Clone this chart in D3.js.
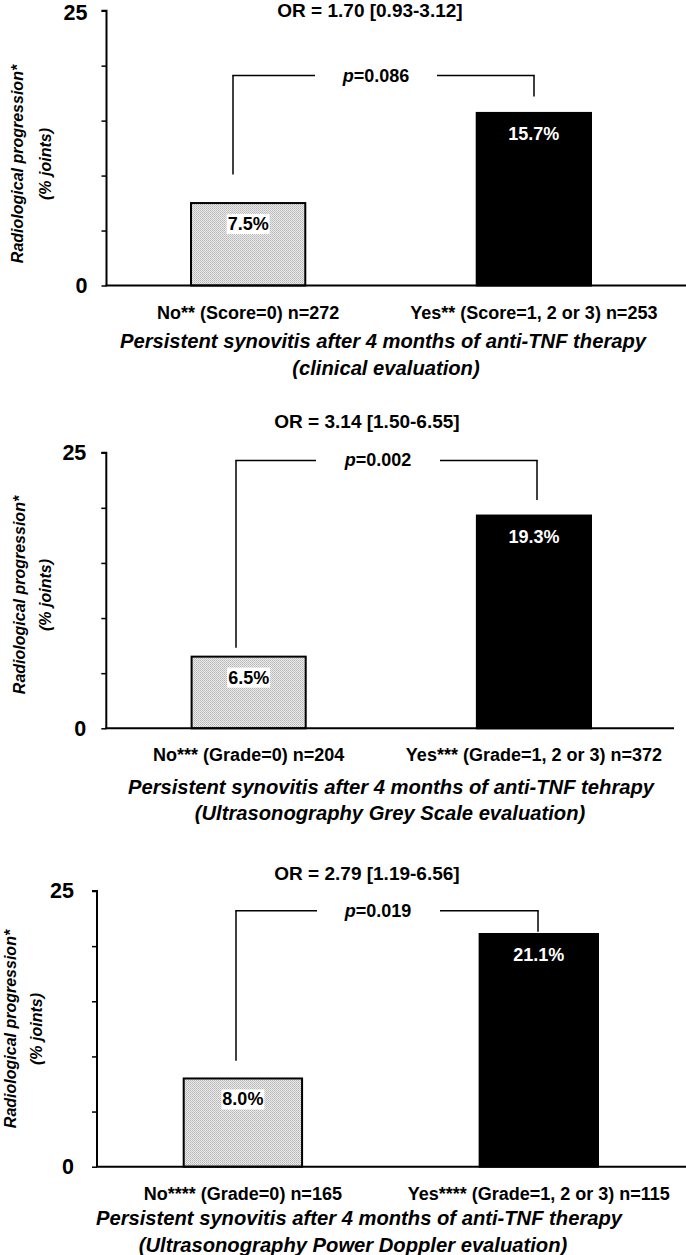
<!DOCTYPE html>
<html>
<head>
<meta charset="utf-8">
<script src="https://cdn.jsdelivr.net/npm/d3@7"></script>
<style>
  html, body { margin: 0; padding: 0; background: #fff; }
  svg { display: block; }
  text { font-family: "Liberation Sans", Arial, sans-serif; font-weight: bold; fill: #000; }
</style>
</head>
<body>
<svg id="chart" width="686" height="1255"></svg>
<script>
// ---------------- DATA ----------------
const groups = ["No", "Yes"];
const panelTitles = ["OR = 1.70 [0.93-3.12]", "OR = 3.14 [1.50-6.55]", "OR = 2.79 [1.19-6.56]"];
const values1 = [7.5, 15.7];
const values2 = [6.5, 19.3];
const values3 = [8.0, 21.1];
const valueLabels1 = ["7.5%", "15.7%"];
const valueLabels2 = ["6.5%", "19.3%"];
const valueLabels3 = ["8.0%", "21.1%"];
const categoryLabels1 = ["No** (Score=0) n=272", "Yes** (Score=1, 2 or 3) n=253"];
const categoryLabels2 = ["No*** (Grade=0) n=204", "Yes*** (Grade=1, 2 or 3) n=372"];
const categoryLabels3 = ["No**** (Grade=0) n=165", "Yes**** (Grade=1, 2 or 3) n=115"];
const pValues = ["0.086", "0.002", "0.019"];
// bracket levels in axis units: [top, left drop end, right drop end]
const brackets1 = [19.1, 10.1, 17.2];
const brackets2 = [24.3, 7.3, 20.7];
const brackets3 = [23.2, 9.6, 21.3];
const xTitles1 = ["Persistent synovitis after 4 months of anti-TNF therapy", "(clinical evaluation)"];
const xTitles2 = ["Persistent synovitis after 4 months of anti-TNF tehrapy", "(Ultrasonography Grey Scale evaluation)"];
const xTitles3 = ["Persistent synovitis after 4 months of anti-TNF therapy", "(Ultrasonography Power Doppler evaluation)"];
const yTitle = ["Radiological progression*", "(% joints)"];
const yTickValues = [0, 5, 10, 15, 20, 25];
const yLabelledTicks = [0, 25];
const yMax = 25;

// ---------------- LAYOUT ----------------
const panels = [
  { values: values1, vlabels: valueLabels1, cats: categoryLabels1, title: panelTitles[0], p: pValues[0], br: brackets1, xt: xTitles1,
    axisX: 106.5, yTop: 10.7, yBot: 285.5, xEnd: 686, band: [191, 591], titleX: 370, titleY: 10.5, topNudge: 2,
    brL: 233, brR: 534, gapL: 315, gapR: 437, pX: 376, xtX: [383, 386], xtY: [341, 368], ytX: [17, 45], ytY: 164, tickPad: 14 },
  { values: values2, vlabels: valueLabels2, cats: categoryLabels2, title: panelTitles[1], p: pValues[1], br: brackets2, xt: xTitles2,
    axisX: 106.3, yTop: 452.7, yBot: 728.3, xEnd: 674, band: [191.6, 591], titleX: 367, titleY: 421, topNudge: 0,
    brL: 236, brR: 537, gapL: 316, gapR: 440, pX: 378, xtX: [391, 390], xtY: [787, 813], ytX: [19, 45], ytY: 595, tickPad: 15 },
  { values: values3, vlabels: valueLabels3, cats: categoryLabels3, title: panelTitles[2], p: pValues[2], br: brackets3, xt: xTitles3,
    axisX: 97, yTop: 891, yBot: 1166.7, xEnd: 686, band: [183.7, 598], titleX: 367, titleY: 873, topNudge: 0,
    brL: 236, brR: 538, gapL: 317, gapR: 440, pX: 378, xtX: [359, 353], xtY: [1218, 1245], ytX: [10, 36], ytY: 1029, tickPad: 18 }
];

const svg = d3.select("#chart");

// stipple pattern for light bar
const defs = svg.append("defs");
const pat = defs.append("pattern").attr("id", "stipple").attr("patternUnits", "userSpaceOnUse")
  .attr("width", 2).attr("height", 2);
pat.append("rect").attr("width", 2).attr("height", 2).attr("fill", "#ececec");
pat.append("rect").attr("x", 0).attr("y", 0).attr("width", 1).attr("height", 1).attr("fill", "#b4b4b4");
pat.append("rect").attr("x", 1).attr("y", 1).attr("width", 1).attr("height", 1).attr("fill", "#c4c4c4");

const fills = ["url(#stipple)", "#000"];

panels.forEach(P => {
  const g = svg.append("g");
  const y = d3.scaleLinear().domain([0, yMax]).range([P.yBot, P.yTop]);
  const x = d3.scaleBand().domain(groups).range(P.band).paddingInner(0.6).paddingOuter(0);

  // title
  g.append("text").attr("x", P.titleX).attr("y", P.titleY).attr("text-anchor", "middle")
    .attr("dominant-baseline", "central").style("font-size", "19px").text(P.title);

  // bars
  g.selectAll("rect.bar").data(P.values).join("rect").attr("class", "bar")
    .attr("x", (d, i) => x(groups[i])).attr("width", x.bandwidth())
    .attr("y", d => y(d)).attr("height", d => y(0) - y(d))
    .attr("fill", (d, i) => fills[i]).attr("stroke", "#000").attr("stroke-width", 2);

  // value labels
  P.values.forEach((v, i) => {
    const cx = x(groups[i]) + x.bandwidth() / 2;
    const cy = y(v) + 21;
    const t = g.append("text").attr("x", cx).attr("y", cy).attr("text-anchor", "middle")
      .attr("dominant-baseline", "central").style("font-size", "18px")
      .style("fill", i === 0 ? "#000" : "#fff").text(P.vlabels[i]);
    if (i === 0) {
      const bb = t.node().getBBox();
      g.insert("rect", () => t.node()).attr("x", bb.x - 1).attr("y", cy - 10)
        .attr("width", bb.width + 2).attr("height", 20).attr("fill", "#fff");
    }
  });

  // axes
  const yAxis = d3.axisLeft(y).tickValues(yTickValues).tickSize(5).tickPadding(P.tickPad)
    .tickFormat(d => yLabelledTicks.includes(d) ? d : "");
  const ya = g.append("g").attr("transform", `translate(${P.axisX},0)`).call(yAxis);
  ya.select(".domain").attr("stroke-width", 2).attr("d", `M-5,${P.yTop}H0V${P.yBot}`);
  ya.selectAll(".tick line").attr("stroke-width", 1.5);
  ya.selectAll(".tick text").style("font-size", "21.5px").style("font-family", "'Liberation Sans', Arial, sans-serif")
    .style("font-weight", "bold").attr("fill", "#000")
    .attr("y", d => d === yMax ? P.topNudge : 0);

  g.append("line").attr("x1", P.axisX - 1).attr("x2", P.xEnd).attr("y1", y(0)).attr("y2", y(0))
    .attr("stroke", "#000").attr("stroke-width", 2);

  // category labels
  P.cats.forEach((c, i) => {
    g.append("text").attr("x", x(groups[i]) + x.bandwidth() / 2).attr("y", y(0) + 27)
      .attr("text-anchor", "middle").attr("dominant-baseline", "central")
      .style("font-size", "18px").text(c);
  });

  // significance bracket
  const [bTop, bL, bR] = P.br;
  const ln = (x1, y1, x2, y2) => g.append("line").attr("x1", x1).attr("y1", y1).attr("x2", x2).attr("y2", y2)
    .attr("stroke", "#000").attr("stroke-width", 1.5);
  ln(P.brL, y(bL), P.brL, y(bTop));
  ln(P.brL - 0.75, y(bTop), P.gapL, y(bTop));
  ln(P.gapR, y(bTop), P.brR + 0.75, y(bTop));
  ln(P.brR, y(bTop), P.brR, y(bR));
  const pt = g.append("text").attr("x", P.pX).attr("y", y(bTop)).attr("text-anchor", "middle")
    .attr("dominant-baseline", "central").style("font-size", "18px");
  pt.append("tspan").style("font-style", "italic").text("p");
  pt.append("tspan").text("=" + P.p);

  // x title
  P.xt.forEach((t, i) => {
    g.append("text").attr("x", P.xtX[i]).attr("y", P.xtY[i]).attr("text-anchor", "middle")
      .attr("dominant-baseline", "central").style("font-size", "20.2px").style("font-style", "italic").text(t);
  });

  // y title
  yTitle.forEach((t, i) => {
    g.append("text").attr("transform", `translate(${P.ytX[i]},${P.ytY}) rotate(-90)`)
      .attr("text-anchor", "middle").attr("dominant-baseline", "central")
      .style("font-size", "16px").style("font-style", "italic").text(t);
  });
});
</script>
</body>
</html>
